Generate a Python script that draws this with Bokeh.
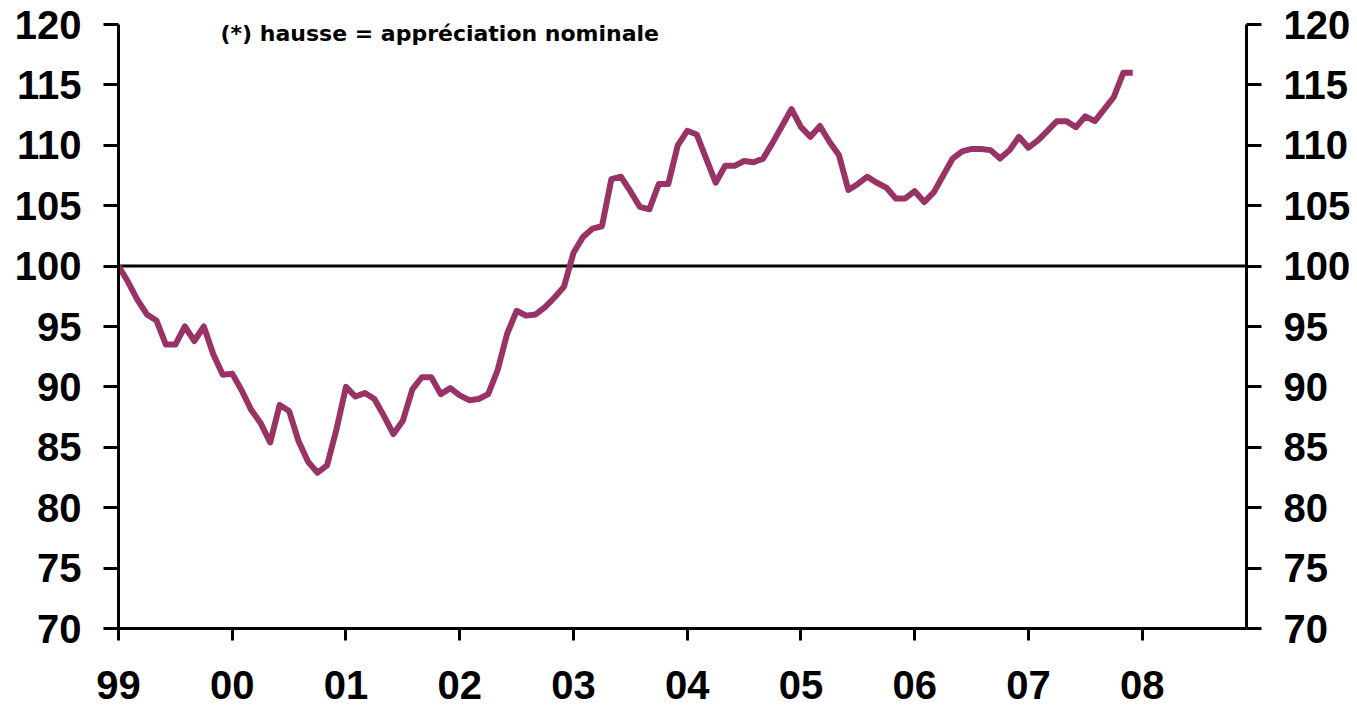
from bokeh.plotting import figure
from bokeh.models import Range1d, LinearAxis, FixedTicker, Span, Label
from bokeh.embed import file_html
from bokeh.resources import INLINE

# Monthly index (Jan 1999 = 0)
values = [
    100.0, 98.7, 97.2, 96.0, 95.5, 93.5, 93.5, 95.0, 93.8, 95.0, 92.7, 91.0,   # 1999
    91.1, 89.7, 88.1, 87.0, 85.4, 88.5, 88.0, 85.5, 83.8, 82.9, 83.5, 86.5,    # 2000
    90.0, 89.2, 89.5, 89.0, 87.6, 86.1, 87.2, 89.8, 90.8, 90.8, 89.4, 89.9,    # 2001
    89.3, 88.9, 89.0, 89.4, 91.4, 94.4, 96.3, 95.9, 96.0, 96.6, 97.4, 98.3,    # 2002
    101.1, 102.4, 103.1, 103.3, 107.2, 107.4, 106.2, 104.9, 104.7, 106.8, 106.8, 110.0,  # 2003
    111.2, 110.9, 108.9, 106.9, 108.3, 108.3, 108.7, 108.6, 108.9, 110.2, 111.6, 113.0,  # 2004
    111.5, 110.7, 111.6, 110.3, 109.2, 106.3, 106.8, 107.4, 106.9, 106.5, 105.6, 105.6,  # 2005
    106.2, 105.3, 106.1, 107.5, 108.9, 109.5, 109.7, 109.7, 109.6, 108.9, 109.6, 110.7,  # 2006
    109.8, 110.4, 111.2, 112.0, 112.0, 111.5, 112.4, 112.0, 113.0, 114.0, 116.0, 116.0,  # 2007
]
months = list(range(len(values)))

year_ticks = [0, 12, 24, 36, 48, 60, 72, 84, 96, 108]
year_labels = ["99", "00", "01", "02", "03", "04", "05", "06", "07", "08"]
y_ticks = [70, 75, 80, 85, 90, 95, 100, 105, 110, 115, 120]
note_text = "(*) hausse = appréciation nominale"

AXIS_FONT = "Liberation Sans"
NOTE_FONT = "DejaVu Sans"

p = figure(width=1357, height=715, output_backend="svg", toolbar_location=None,
           x_range=Range1d(0, 119), y_range=Range1d(70, 121.573),
           min_border_left=118, min_border_right=111, min_border_top=5,
           min_border_bottom=87)
p.xgrid.visible = False
p.ygrid.visible = False
p.outline_line_color = None
p.background_fill_color = "white"
p.border_fill_color = "white"

def style_axis(ax, tick_out, standoff):
    ax.axis_line_width = 3
    ax.axis_line_color = "black"
    ax.major_tick_line_width = 3
    ax.major_tick_line_color = "black"
    ax.major_tick_in = 0
    ax.major_tick_out = tick_out
    ax.minor_tick_line_color = None
    ax.major_label_text_font = AXIS_FONT
    ax.major_label_text_font_style = "bold"
    ax.major_label_text_font_size = "40px"
    ax.major_label_text_color = "black"
    ax.major_label_standoff = standoff

xa = p.xaxis[0]
xa.ticker = FixedTicker(ticks=year_ticks)
xa.major_label_overrides = {t: l for t, l in zip(year_ticks, year_labels)}
style_axis(xa, 12, 30)

ya = p.yaxis[0]
ya.ticker = FixedTicker(ticks=y_ticks)
ya.bounds = (70, 120)
style_axis(ya, 15, 22)

ra = LinearAxis(ticker=FixedTicker(ticks=y_ticks), bounds=(70, 120))
style_axis(ra, 15, 22)
p.add_layout(ra, "right")

p.add_layout(Span(location=100, dimension="width", line_color="black",
                  line_width=3, level="underlay"))

p.line(months, values, line_color="#993366", line_width=6, line_join="round")

p.add_layout(Label(x=10.76, y=119.25, text=note_text, text_font=NOTE_FONT,
                   text_font_style="bold", text_font_size="22px",
                   text_baseline="alphabetic", text_align="left", text_color="black"))

open("out.html", "w").write(file_html(p, INLINE))
